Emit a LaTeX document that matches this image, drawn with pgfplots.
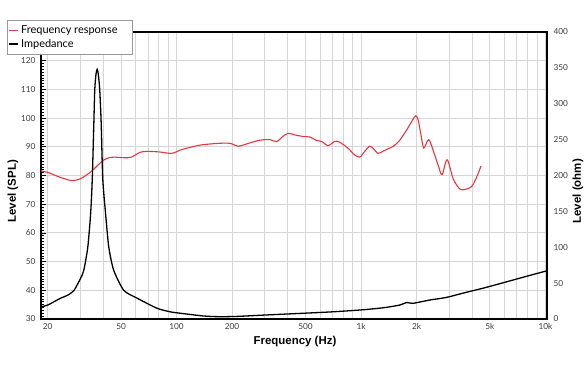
\documentclass[border=0pt]{standalone}
\usepackage{fontspec}
\setmainfont{Lato}
\newfontfamily\labfont{Liberation Sans}
\usepackage{pgfplots}
\pgfplotsset{compat=1.18}
\definecolor{fr}{RGB}{228,55,65}
\definecolor{gridc}{RGB}{214,214,214}
\definecolor{tickc}{RGB}{60,60,60}

\begin{document}
\begin{tikzpicture}
\useasboundingbox (-41bp,-53bp) rectangle (547bp,319bp);
\begin{axis}[
  at={(0,0)}, anchor=south west,
  scale only axis, width=506bp, height=287bp,
  xmode=log, xmin=18.4, xmax=10200,
  ymin=30, ymax=130,
  xtick={20,30,40,50,60,70,80,90,100,200,300,400,500,600,700,800,900,1000,2000,3000,4000,5000,6000,7000,8000,9000,10000},
  xticklabels={20,,,50,,,,,100,200,,,500,,,,,1k,2k,,,5k,,,,,10k},
  ytick={30,40,...,120},
  minor y tick num=9,
  ytick pos=left,
  xtick pos=bottom,
  xmajorgrids, ymajorgrids,
  grid style={gridc, line width=0.9bp},
  major x tick style={draw=none},
  major y tick style={black, line width=0.8bp},
  minor y tick style={black, line width=0.6bp},
  major tick length=5bp, minor tick length=3.5bp,
  x axis line style={gridc, line width=0.9bp},
  y axis line style={black, line width=1.3bp},
  /pgf/number format/assume math mode=true,
  ticklabel style={font=\fontsize{8.3}{10}\selectfont, text=tickc},
  xticklabel style={yshift=-1bp},
  yticklabel style={xshift=-2bp},
  xlabel={\labfont\bfseries Frequency (Hz)},
  xlabel style={at={(axis description cs:0.502,0)}, anchor=center, yshift=-23bp, font=\fontsize{11.5}{13}\selectfont},
  ylabel={\labfont\bfseries Level (SPL)},
  ylabel style={at={(axis description cs:-0.0553,0.445)}, anchor=center, font=\fontsize{11.5}{13}\selectfont},
  legend style={at={(axis description cs:-0.0672,1.042)}, anchor=north west, draw=gray!80, fill=white, line width=0.6bp,
    font=\fontsize{11}{13}\selectfont, inner xsep=1.5bp, inner ysep=3.3bp, row sep=0.5bp},
  legend cell align=left,
  legend image code/.code={\draw[#1] (0bp,0bp) -- (9bp,0bp);},
]
\addplot[fr, line width=1.1bp, smooth, tension=0.5] coordinates {
(18.4,81.6) (20.2,81) (21.5,80.3) (23.5,79.3) (26.6,78.3) (28.5,78.4) (30.2,78.9) (32.5,80.2) (34.9,81.7) (37.7,83.8) (40.3,85.4) (43.6,86.3) (46,86.4) (52,86.2) (56.3,86.3) (60,87.2) (63.5,88.1) (69.2,88.4) (81,88.2) (94.4,87.7) (105,88.9) (118.6,89.8) (134,90.6) (160,91.1) (187,91.3) (200,91.0) (216,90.2) (245,91.2) (283,92.3) (321,92.5) (349,91.8) (375,93.5) (403,94.7) (440,94.1) (484,93.6) (528,93.4) (574,92.2) (611,91.9) (663,90.4) (721,91.9) (767,91.6) (850,89.5) (920,87.3) (984,86.4) (1050,88.5) (1114,90.2) (1170,89.3) (1235,87.7) (1320,88.5) (1400,89.3) (1500,90.2) (1618,92.2) (1758,95.6) (1872,98.5) (1975,100.8) (2040,99.4) (2110,94.5) (2190,89.6) (2332,92.5) (2500,87.5) (2640,82.9) (2754,80.3) (2932,85.5) (3160,78.9) (3400,75.6) (3560,75) (3952,76) (4204,78.9) (4474,83.3)
};
\addlegendentry{\makebox[108bp][l]{Frequency response}}
\addlegendimage{black, line width=1.3bp}
\addlegendentry{Impedance}
\end{axis}
\begin{axis}[
  at={(0,0)}, anchor=south west,
  scale only axis, width=506bp, height=287bp,
  xmode=log, xmin=18.4, xmax=10200,
  ymin=0, ymax=400,
  axis x line=none,
  axis y line*=right,
  ytick={0,50,...,400},
  major tick length=0bp,
  y axis line style={black, line width=1.3bp, -},
  /pgf/number format/assume math mode=true,
  ticklabel style={font=\fontsize{8.3}{10}\selectfont, text=tickc},
  yticklabel style={xshift=3bp},
  ylabel={\labfont\bfseries Level (ohm)},
  ylabel style={at={(axis description cs:1.0613,0.445)}, anchor=center, font=\fontsize{11.5}{13}\selectfont},
]
\addplot[black, line width=1.3bp, smooth, tension=0.4] coordinates {
(18.4,17) (20,19.4) (23.5,29) (25.6,33) (27.8,40) (30.2,57) (31.4,68) (33.0,100) (34.2,147) (34.9,195) (35.6,274) (36.0,320) (36.6,342) (37.1,348) (37.6,342) (38.3,320) (39.0,274) (39.8,195) (41.2,147) (42.9,100) (45.6,68) (51.7,40) (61.1,29) (78.3,15) (92.4,10) (105,8) (140,4.2) (170,3.2) (212,3.6) (300,5.5) (486,8) (700,10) (984,12.5) (1200,14.5) (1372,16.2) (1618,19.4) (1773,23) (1910,21.8) (2352,26.4) (2894,30) (3700,37) (4764,44) (6606,54) (8300,61) (10120,67)
};
\end{axis}
\end{tikzpicture}
\end{document}
